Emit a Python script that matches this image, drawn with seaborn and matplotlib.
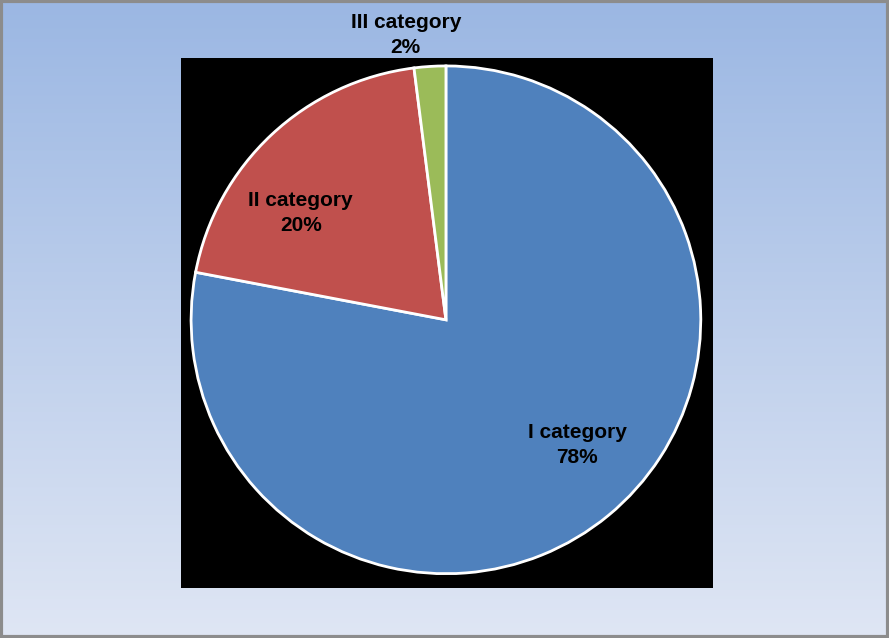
import numpy as np
import matplotlib
matplotlib.use("Agg")
import matplotlib.pyplot as plt
import seaborn as sns
from matplotlib.patches import Rectangle

categories = ["I category", "II category", "III category"]
values = [78, 20, 2]
colors = ["#4f81bd", "#c0504d", "#9bbb59"]

sns.set_theme(style="white")
plt.rcParams['font.family'] = ['Liberation Sans', 'DejaVu Sans']

fig = plt.figure(figsize=(8.89, 6.38), dpi=100)

# gradient background
bg = fig.add_axes([0, 0, 1, 1], zorder=0)
top = np.array([155, 183, 227]) / 255
bot = np.array([223, 230, 244]) / 255
t = np.linspace(0, 1, 256)[:, None]
grad = (top[None, :] * (1 - t) + bot[None, :] * t)[:, None, :]
bg.imshow(grad, aspect="auto", extent=[0, 1, 0, 1], origin="upper")
bg.set_xlim(0, 1); bg.set_ylim(0, 1)
bg.axis("off")
bg.add_patch(Rectangle((0.0015, 0.002), 0.997, 0.996, fill=False,
                       edgecolor="#8c8c8c", linewidth=3, transform=bg.transAxes))

ax = fig.add_axes([181/889, 50/638, 532/889, 530/638], zorder=1)
pal = sns.color_palette(colors)
wedges, _ = ax.pie(values, colors=pal, startangle=90, counterclock=False,
                   radius=0.958, center=(-0.004, 0.012), frame=True,
                   wedgeprops=dict(edgecolor="white", linewidth=2))
ax.set_facecolor("black")
ax.set_xlim(-1, 1); ax.set_ylim(-1, 1)
ax.set_aspect("auto")
for s in ax.spines.values():
    s.set_visible(False)
ax.set_xticks([]); ax.set_yticks([])

label_pos = [(0.49, -0.46), (-0.55, 0.415), (-0.155, 1.085)]
for cat, v, (x, y) in zip(categories, values, label_pos):
    ax.text(x, y, f"{cat}\n{v}%", ha="center", va="center", fontsize=15,
            fontweight="bold", color="black", linespacing=1.4, clip_on=False)

fig.savefig("out.png", dpi=100)
